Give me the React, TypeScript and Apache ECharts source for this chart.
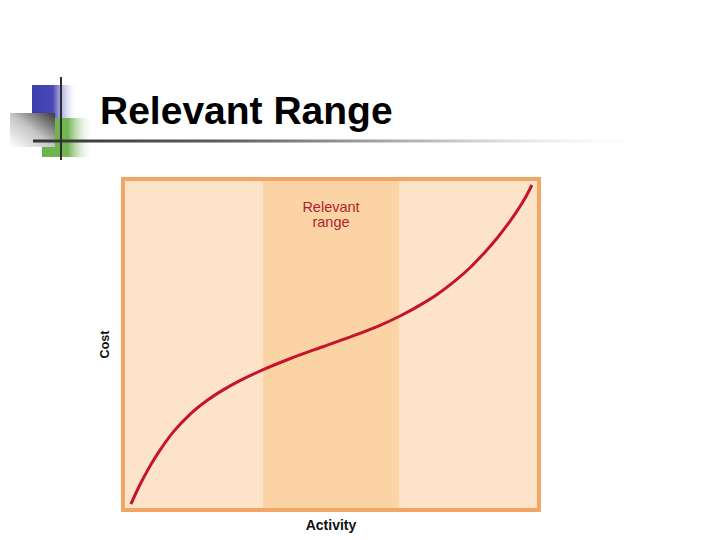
import React, { useEffect, useRef } from "react";
import * as echarts from "echarts";

const titleText = "Relevant Range";
const xAxisName = "Activity";
const yAxisName = "Cost";
const bandName = "Relevant\nrange";
const bandRange = [33.7, 66.3];
const activity = [1.9, 4.1, 6.5, 8.9, 12.1, 16.1, 20.1, 24.1, 28.1, 33.7, 40.1, 48.2, 55.3, 61.8, 66.6, 71.4, 75.5, 79.8, 83.4, 87.0, 89.9, 92.6, 94.7, 96.6, 98.3];
const cost = [1.8, 7.7, 13.3, 18.1, 23.6, 28.9, 33.0, 36.3, 39.1, 42.4, 45.7, 49.4, 52.6, 55.8, 58.6, 61.9, 65.1, 69.2, 73.2, 77.9, 82.1, 86.5, 90.3, 94.1, 98.2];

const FONT = "'Liberation Sans', Arial, Helvetica, sans-serif";

export default function App() {
  const ref = useRef<HTMLDivElement>(null);
  useEffect(() => {
    document.body.style.margin = "0";
    const chart = echarts.init(ref.current!, null, { renderer: "svg" });
    const gridL = 123, gridT = 179, gridW = 416, gridH = 331;
    chart.setOption({
      animation: false,
      backgroundColor: "#ffffff",
      grid: {
        left: gridL,
        top: gridT,
        width: gridW,
        height: gridH,
        show: true,
        backgroundColor: "#fde3c7",
        borderWidth: 0,
      },
      xAxis: {
        type: "value",
        min: 0,
        max: 100,
        name: xAxisName,
        nameLocation: "middle",
        nameGap: 8,
        nameTextStyle: { fontFamily: FONT, fontWeight: "bold", fontSize: 14, color: "#111" },
        axisLine: { show: false },
        axisTick: { show: false },
        axisLabel: { show: false },
        splitLine: { show: false },
      },
      yAxis: {
        type: "value",
        min: 0,
        max: 100,
        name: yAxisName,
        nameLocation: "middle",
        nameRotate: 90,
        nameGap: 12,
        nameTextStyle: { fontFamily: FONT, fontWeight: "bold", fontSize: 12.5, color: "#111" },
        axisLine: { show: false },
        axisTick: { show: false },
        axisLabel: { show: false },
        splitLine: { show: false },
      },
      series: [
        {
          type: "line",
          data: activity.map((a, i) => [a, cost[i]]),
          smooth: 0.3,
          symbol: "none",
          lineStyle: { color: "#c5142e", width: 3 },
          z: 5,
          markArea: {
            silent: true,
            itemStyle: { color: "#fcd3a5" },
            label: {
              show: true,
              position: "insideTop",
              distance: 20,
              fontFamily: FONT,
              fontSize: 14.5,
              lineHeight: 15,
              color: "#b01f2c",
              align: "center",
            },
            data: [[{ name: bandName, xAxis: bandRange[0] }, { xAxis: bandRange[1] }]],
          },
        },
      ],
      graphic: [
        {
          type: "rect",
          shape: { x: 32, y: 85, width: 46, height: 33 },
          style: {
            fill: new echarts.graphic.LinearGradient(0, 0, 1, 0, [
              { offset: 0, color: "#3d3dae" },
              { offset: 0.45, color: "#4848b6" },
              { offset: 1, color: "rgba(255,255,255,0)" },
            ]),
          },
          z: 10,
        },
        {
          type: "rect",
          shape: { x: 42, y: 118, width: 52, height: 39 },
          style: {
            fill: new echarts.graphic.LinearGradient(0, 0, 1, 0, [
              { offset: 0, color: "#6bb24a" },
              { offset: 0.5, color: "#74b655" },
              { offset: 1, color: "rgba(255,255,255,0)" },
            ]),
          },
          z: 10,
        },
        {
          type: "rect",
          shape: { x: 10, y: 113, width: 45, height: 34 },
          style: {
            fill: new echarts.graphic.LinearGradient(0, 1, 1, 0, [
              { offset: 0, color: "#ffffff" },
              { offset: 0.5, color: "#c4c4c4" },
              { offset: 1, color: "#3a3a3a" },
            ]),
          },
          z: 11,
        },
        {
          type: "rect",
          shape: { x: 33, y: 139.5, width: 640, height: 3 },
          style: {
            fill: new echarts.graphic.LinearGradient(0, 0, 1, 0, [
              { offset: 0, color: "#333333" },
              { offset: 0.3, color: "#5e5e5e" },
              { offset: 0.65, color: "#c4c4c4" },
              { offset: 1, color: "rgba(255,255,255,0)" },
            ]),
          },
          z: 12,
        },
        {
          type: "rect",
          shape: { x: 60, y: 77, width: 2, height: 83 },
          style: { fill: "#2f2f2f" },
          z: 13,
        },
        {
          type: "text",
          x: 100,
          y: 110,
          style: {
            text: titleText,
            fontFamily: FONT,
            fontWeight: "bold",
            fontSize: 39,
            fill: "#000000",
            verticalAlign: "middle",
            align: "left",
          },
          z: 14,
        },
        {
          type: "rect",
          shape: { x: gridL, y: gridT, width: gridW, height: gridH },
          style: { fill: "none", stroke: "#f2a665", lineWidth: 4 },
          z: 20,
        },
      ],
    });
    return () => chart.dispose();
  }, []);
  return (
    <div
      ref={ref}
      style={{ position: "absolute", left: 0, top: 0, width: 720, height: 540 }}
    />
  );
}
